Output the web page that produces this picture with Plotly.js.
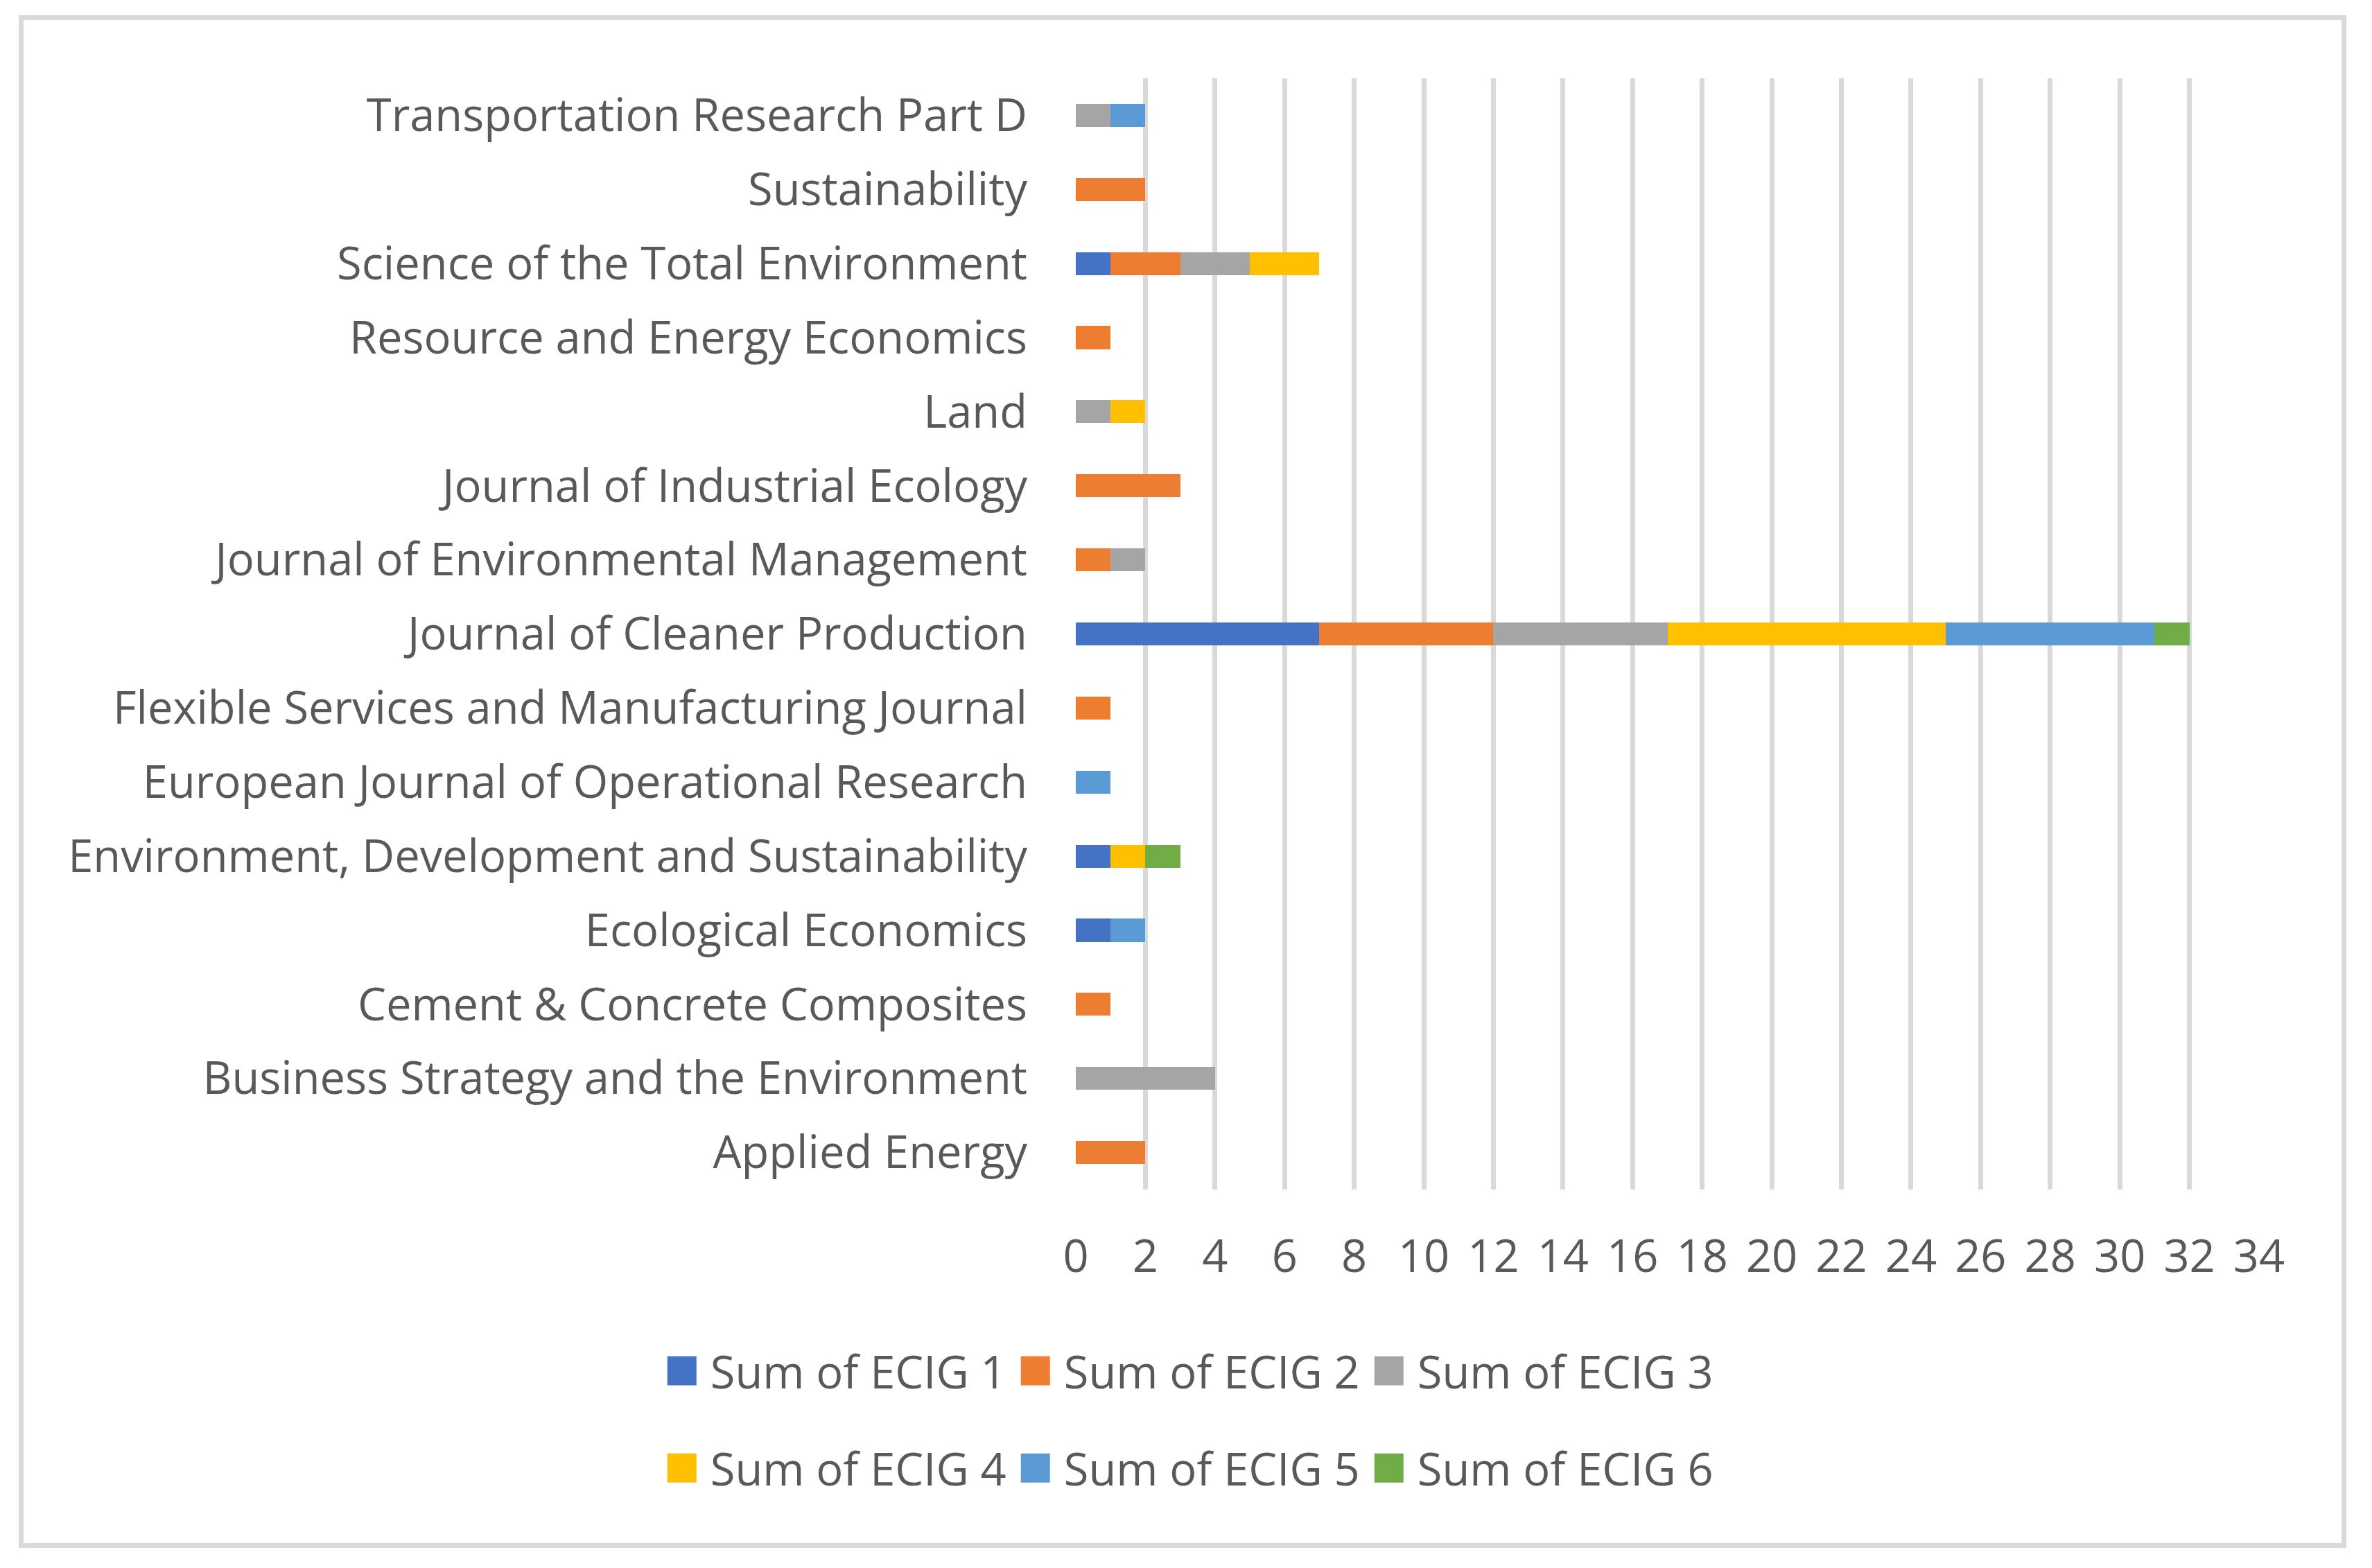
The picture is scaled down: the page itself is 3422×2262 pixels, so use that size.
<!DOCTYPE html>
<html>
<head>
<meta charset="utf-8">
<script src="https://cdn.plot.ly/plotly-3.0.1.min.js"></script>
<style>
  html, body { margin: 0; padding: 0; background: #ffffff; }
  #wrap { position: relative; width: 3422px; height: 2262px; }
  #chart { position: absolute; left: 0; top: 0; width: 3422px; height: 2262px; }
  #frame { position: absolute; left: 27px; top: 22px; width: 3344px; height: 2197px;
           border: 7px solid #d9d9d9; pointer-events: none; }
</style>
</head>
<body>
<div id="wrap">
  <div id="chart"></div>
  <div id="frame"></div>
</div>
<script>
// Categories listed bottom-to-top (as drawn on the category axis)
const journals = [
  "Applied Energy",
  "Business Strategy and the Environment",
  "Cement & Concrete Composites",
  "Ecological Economics",
  "Environment, Development and Sustainability",
  "European Journal of Operational Research",
  "Flexible Services and Manufacturing Journal",
  "Journal of Cleaner Production",
  "Journal of Environmental Management",
  "Journal of Industrial Ecology",
  "Land",
  "Resource and Energy Economics",
  "Science of the Total Environment",
  "Sustainability",
  "Transportation Research Part D"
];

const ecig1 = [0, 0, 0, 1, 1, 0, 0, 7, 0, 0, 0, 0, 1, 0, 0];
const ecig2 = [2, 0, 1, 0, 0, 0, 1, 5, 1, 3, 0, 1, 2, 2, 0];
const ecig3 = [0, 4, 0, 0, 0, 0, 0, 5, 1, 0, 1, 0, 2, 0, 1];
const ecig4 = [0, 0, 0, 0, 1, 0, 0, 8, 0, 0, 1, 0, 2, 0, 0];
const ecig5 = [0, 0, 0, 1, 0, 1, 0, 6, 0, 0, 0, 0, 0, 0, 1];
const ecig6 = [0, 0, 0, 0, 1, 0, 0, 1, 0, 0, 0, 0, 0, 0, 0];

const seriesNames = ["Sum of ECIG 1", "Sum of ECIG 2", "Sum of ECIG 3",
                     "Sum of ECIG 4", "Sum of ECIG 5", "Sum of ECIG 6"];
const seriesValues = [ecig1, ecig2, ecig3, ecig4, ecig5, ecig6];
const seriesColors = ["#4472C4", "#ED7D31", "#A5A5A5", "#FFC000", "#5B9BD5", "#70AD47"];

const xTickVals = [0, 2, 4, 6, 8, 10, 12, 14, 16, 18, 20, 22, 24, 26, 28, 30, 32, 34];

const FONT = "Open Sans, Noto Sans, sans-serif";
const TXT = "#595959";
const FS = 65;

const traces = seriesValues.map((vals, i) => ({
  type: "bar",
  orientation: "h",
  name: seriesNames[i],
  y: journals,
  x: vals,
  marker: { color: seriesColors[i], line: { width: 0 } },
  legend: i < 3 ? "legend" : "legend2",
  hoverinfo: "x+y+name"
}));

const legendCommon = {
  orientation: "h",
  xref: "container",
  yref: "container",
  xanchor: "center",
  yanchor: "middle",
  font: { family: FONT, size: FS, color: TXT },
  itemwidth: 52,
  entrywidth: 443,
  entrywidthmode: "pixels",
  bgcolor: "rgba(0,0,0,0)",
  traceorder: "normal"
};

const layout = {
  width: 3422,
  height: 2262,
  paper_bgcolor: "#ffffff",
  plot_bgcolor: "#ffffff",
  barmode: "stack",
  bargap: 0.69,
  margin: { l: 1552, r: 163, t: 113, b: 546, pad: 0 },
  font: { family: FONT, size: FS, color: TXT },
  xaxis: {
    range: [0, 34],
    tickvals: xTickVals,
    ticktext: xTickVals.map(String),
    showgrid: true,
    gridcolor: "#d9d9d9",
    gridwidth: 7,
    zeroline: false,
    showline: false,
    ticks: "",
    ticklabelstandoff: 53,
    tickfont: { family: FONT, size: FS, color: TXT },
    fixedrange: true
  },
  yaxis: {
    type: "category",
    categoryorder: "array",
    categoryarray: journals,
    showgrid: false,
    zeroline: false,
    showline: false,
    ticks: "",
    ticklabelstandoff: 69,
    tickfont: { family: FONT, size: FS, color: TXT },
    fixedrange: true
  },
  legend: Object.assign({}, legendCommon, { x: 0.5049, y: 0.1257 }),
  legend2: Object.assign({}, legendCommon, { x: 0.5049, y: 0.0637 }),
  showlegend: true
};

// enlarge legend colour keys (42px squares, 20px before the text) like the reference
function styleLegendKeys() {
  document.querySelectorAll("#chart .scrollbox").forEach(s => s.removeAttribute("clip-path"));
  document.querySelectorAll("#chart g.traces").forEach(item => {
    const text = item.querySelector("text");
    const paths = item.querySelectorAll(".legendpoints path");
    if (!text || !paths.length) return;
    const tb = text.getBoundingClientRect();
    paths.forEach(path => {
      const cur = path.getAttribute("transform") || "";
      if (cur.indexOf("scale(3.5)") >= 0) return;
      const ctm = path.parentNode.getScreenCTM();
      const wantCenter = tb.left - 20 - 21;
      const localX = (wantCenter - ctm.e) / ctm.a;
      path.setAttribute("transform", "translate(" + localX.toFixed(2) + ",0) scale(3.5)");
    });
  });
}

const gd = document.getElementById("chart");
Plotly.newPlot(gd, traces, layout, { displayModeBar: false, staticPlot: true }).then(() => {
  styleLegendKeys();
  setTimeout(styleLegendKeys, 50);
  setTimeout(styleLegendKeys, 300);
});
</script>
</body>
</html>
